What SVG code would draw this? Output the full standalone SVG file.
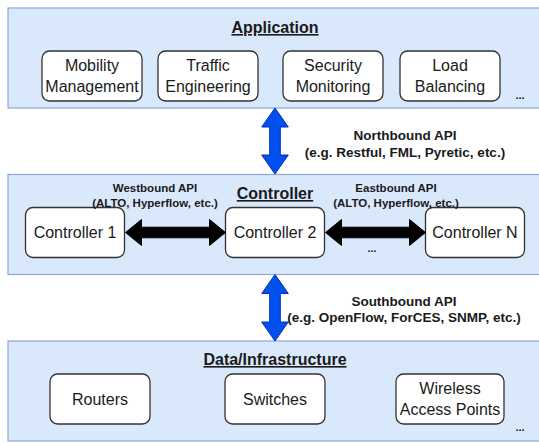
<svg xmlns="http://www.w3.org/2000/svg" width="539" height="443" viewBox="0 0 539 443">
<style>
.panel{fill:#dae8fc;stroke:#8aa8d8;stroke-width:1.2}
.box{fill:#ffffff;stroke:#333333;stroke-width:1.3}
.title{font-family:"Liberation Sans",Arial,sans-serif;font-size:16px;font-weight:bold;fill:#1a1a1a;text-anchor:middle;text-decoration:underline}
.lbl{font-family:"Liberation Sans",Arial,sans-serif;font-size:16px;fill:#1a1a1a;text-anchor:middle}
.api{font-family:"Liberation Sans",Arial,sans-serif;font-size:13.5px;font-weight:bold;fill:#1a1a1a;text-anchor:middle}
.api2{font-family:"Liberation Sans",Arial,sans-serif;font-size:11.5px;font-weight:bold;fill:#1a1a1a;text-anchor:middle}
.dots{font-family:"Liberation Sans",Arial,sans-serif;font-size:11px;font-weight:bold;fill:#1a1a1a;text-anchor:middle}
.blue{fill:#0050ef;stroke:#0030c0;stroke-width:1}
.black{fill:#000000;stroke:#000000;stroke-width:1}
</style>
<g id="application-layer">
<rect class="panel" x="8" y="8" width="545" height="100"/>
<text class="title" x="275" y="33">Application</text>
<text class="dots" x="520" y="99">...</text>
</g>
<g id="controller-layer">
<rect class="panel" x="8" y="174.5" width="545" height="100"/>
<text class="title" x="275" y="199">Controller</text>
<text class="dots" x="372" y="252">...</text>
</g>
<g id="data-layer">
<rect class="panel" x="8" y="341" width="545" height="100"/>
<text class="title" x="275" y="365">Data/Infrastructure</text>
<text class="dots" x="520" y="431">...</text>
</g>
<g id="mobility">
<rect class="box" x="42" y="51" width="100" height="50" rx="7.5"/>
<text class="lbl" x="92" y="71">Mobility</text>
<text class="lbl" x="92" y="91.5">Management</text>
</g>
<g id="traffic">
<rect class="box" x="158" y="51" width="100" height="50" rx="7.5"/>
<text class="lbl" x="208" y="71">Traffic</text>
<text class="lbl" x="208" y="91.5">Engineering</text>
</g>
<g id="security">
<rect class="box" x="283" y="51" width="100" height="50" rx="7.5"/>
<text class="lbl" x="333" y="71">Security</text>
<text class="lbl" x="333" y="91.5">Monitoring</text>
</g>
<g id="load">
<rect class="box" x="400" y="51" width="100" height="50" rx="7.5"/>
<text class="lbl" x="450" y="71">Load</text>
<text class="lbl" x="450" y="91.5">Balancing</text>
</g>
<g id="controller1">
<rect class="box" x="25.5" y="207.5" width="99" height="50" rx="7.5"/>
<text class="lbl" x="75" y="238">Controller 1</text>
</g>
<g id="controller2">
<rect class="box" x="225.5" y="207.5" width="99" height="50" rx="7.5"/>
<text class="lbl" x="275" y="238">Controller 2</text>
</g>
<g id="controllerN">
<rect class="box" x="425.5" y="207.5" width="99" height="50" rx="7.5"/>
<text class="lbl" x="475" y="238">Controller N</text>
</g>
<g id="routers">
<rect class="box" x="50" y="374" width="100" height="50" rx="7.5"/>
<text class="lbl" x="100" y="405">Routers</text>
</g>
<g id="switches">
<rect class="box" x="225" y="374" width="100" height="50" rx="7.5"/>
<text class="lbl" x="275" y="405">Switches</text>
</g>
<g id="wireless">
<rect class="box" x="396" y="374" width="108" height="50" rx="7.5"/>
<text class="lbl" x="450" y="394">Wireless</text>
<text class="lbl" x="450" y="414.5">Access Points</text>
</g>
<g id="connectors">
<polygon class="blue" points="275,108 288.3,127 280.3,127 280.3,155 288.3,155 275,174 261.7,155 269.7,155 269.7,127 261.7,127"/>
<polygon class="blue" points="275,274.5 288.3,293.5 280.3,293.5 280.3,322 288.3,322 275,341 261.7,322 269.7,322 269.7,293.5 261.7,293.5"/>
<polygon class="black" points="125.5,232.5 141.5,219.5 141.5,227.2 209.5,227.2 209.5,219.5 225.5,232.5 209.5,245.5 209.5,237.8 141.5,237.8 141.5,245.5"/>
<polygon class="black" points="325.5,232.5 341.5,219.5 341.5,227.2 409.5,227.2 409.5,219.5 425.5,232.5 409.5,245.5 409.5,237.8 341.5,237.8 341.5,245.5"/>
<text class="api" x="405" y="140">Northbound API</text>
<text class="api" x="405" y="156.5">(e.g. Restful, FML, Pyretic, etc.)</text>
<text class="api2" x="155" y="191.5">Westbound API</text>
<text class="api2" x="155" y="207">(ALTO, Hyperflow, etc.)</text>
<text class="api2" x="396" y="191.5">Eastbound API</text>
<text class="api2" x="396" y="207">(ALTO, Hyperflow, etc.)</text>
<text class="api" x="404" y="306">Southbound API</text>
<text class="api" x="404" y="321.5">(e.g. OpenFlow, ForCES, SNMP, etc.)</text>
</g>
</svg>
